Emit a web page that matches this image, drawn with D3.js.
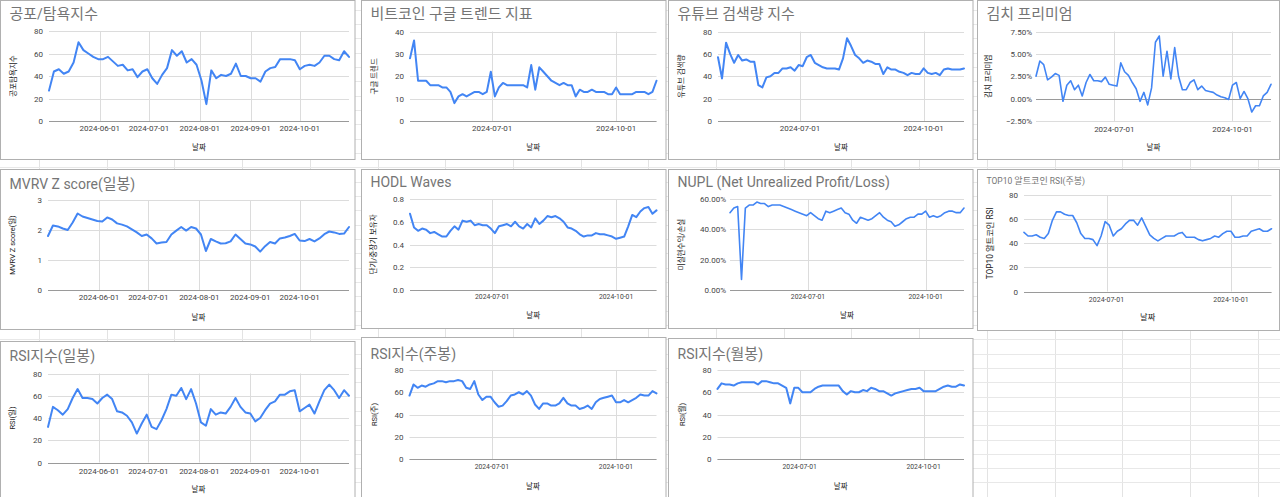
<!DOCTYPE html>
<html><head><meta charset="utf-8">
<script src="https://cdn.jsdelivr.net/npm/d3@7"></script>
<style>
html,body{margin:0;padding:0;background:#fff;overflow:hidden;}
svg{display:block;font-family:Roboto,"Noto Sans CJK KR",sans-serif;}
</style></head><body>
<svg id="c" width="1280" height="497"></svg>
<script>
// ---------- data (sampled every 3 days, 2024-05-01 .. 2024-10-31) ----------
const dates = d3.utcDay.range(new Date(Date.UTC(2024,4,1)), new Date(Date.UTC(2024,10,1)), 3);
const wideTicks = ["2024-06-01","2024-07-01","2024-08-01","2024-09-01","2024-10-01"];
const narrowTicks = ["2024-07-01","2024-10-01"];

const fearGreed = [27,44,46,42,44,52,70,63,60,57, 55,55,57,53,49,50,45,46,39,44, 46,38,33,41,47,63,58,62,52,55, 50,36,15,45,38,41,40,42,51,40, 40,38,38,35,44,47,48,55,55,55, 54,46,49,50,49,52,58,58,55,54, 62,57];
const googleTrend = [28,36,18,18,18,16,16,16,15,15, 13,8,11,12,11,12,13,13,12,13, 22,11,15,17,16,16,16,16,16,15, 25,14,24,22,20,18,17,16,17,16, 16,11,14,13,13,14,13,13,13,12, 12,15,12,12,12,12,13,13,13,12, 13,18];
const youtubeSearch = [57,38,70,60,52,59,54,55,53,53, 32,30,39,40,43,43,47,47,48,45, 50,49,57,59,52,50,48,47,47,47, 46,56,74,67,59,56,52,54,53,51, 51,42,48,46,46,44,43,41,43,42, 42,47,43,42,43,41,46,47,46,46, 46,47];
const kimchiPremium = [2.5,4.2,3.8,2.1,2.4,2.8,2.6,-0.3,1.5,2.0, 1.0,1.5,0.3,1.8,2.7,2.0,2.0,1.9,2.4,1.6, 1.5,1.4,4.0,3.0,2.6,1.8,1.1,-0.3,0.7,-0.7, 1.2,6.3,7.0,2.5,5.3,2.2,5.7,2.5,1.0,1.0, 1.8,2.1,1.0,1.4,0.9,0.8,0.7,0.4,0.2,0.1, -0.1,1.5,1.8,0.0,0.8,0.0,-1.5,-0.8,-0.8,0.3, 0.7,1.6];
const mvrvZ = [1.8,2.15,2.12,2.05,2.0,2.25,2.55,2.45,2.4,2.35, 2.3,2.28,2.42,2.35,2.22,2.18,2.12,2.02,1.92,1.8, 1.85,1.72,1.55,1.58,1.6,1.85,1.98,2.1,1.98,2.1, 2.05,1.85,1.3,1.7,1.62,1.55,1.56,1.62,1.85,1.7, 1.55,1.52,1.45,1.28,1.46,1.6,1.55,1.72,1.75,1.8, 1.87,1.65,1.63,1.7,1.62,1.72,1.86,1.95,1.92,1.87, 1.88,2.1];
const hodlWaves = [0.67,0.55,0.52,0.54,0.53,0.50,0.51,0.49,0.47,0.47, 0.52,0.56,0.53,0.61,0.60,0.61,0.57,0.58,0.57,0.57, 0.54,0.50,0.56,0.57,0.58,0.56,0.60,0.56,0.54,0.58, 0.55,0.63,0.58,0.61,0.65,0.64,0.65,0.63,0.60,0.55, 0.54,0.52,0.49,0.47,0.48,0.48,0.50,0.49,0.49,0.48, 0.47,0.45,0.46,0.47,0.56,0.66,0.64,0.69,0.72,0.73, 0.67,0.70];
const nupl = [51,54,55,7,54,56,56,58,57,57, 55,56,56,56,55,54,53,52,51,50, 49,51,49,47,46,52,51,52,53,54, 51,50,46,44,48,47,46,47,49,51, 48,46,45,42,43,45,47,48,48,50, 50,52,48,49,48,49,51,52,52,51, 51,54];
const altRsiWeekly = [49,46,46,47,45,44,48,59,66,66, 64,63,63,57,48,44,44,43,38,46, 58,55,46,50,52,56,59,59,55,61, 54,47,44,42,44,46,46,46,48,49, 45,45,45,43,42,43,44,46,45,48, 50,50,45,45,46,46,50,51,52,50, 50,52];
const rsiDaily = [32,50,47,43,48,58,66,58,58,57, 53,58,61,57,46,45,42,36,26,35, 43,32,30,38,48,61,60,67,57,66, 53,36,33,48,43,45,44,50,58,50, 45,44,37,40,47,53,55,61,61,64, 65,46,49,52,44,55,65,70,65,58, 65,60];
const rsiWeekly = [57,67,64,66,65,67,68,70,70,69, 70,70,71,70,64,63,70,58,53,56, 56,51,47,48,52,57,58,60,58,61, 57,49,45,50,50,48,48,50,55,50, 48,48,45,46,48,45,51,54,55,56, 57,51,51,53,51,53,55,58,57,57, 61,59];
const rsiMonthly = [63,68,67,67,66,68,69,69,69,69, 67,70,70,69,68,68,66,64,50,64, 64,60,60,60,63,65,66,66,66,66, 66,61,58,61,60,60,62,61,64,63, 61,61,59,57,59,60,61,62,63,63, 64,61,61,61,61,63,65,66,65,65, 67,66];

// ---------- layout ----------
const pct = v => d3.format(".2f")(v) + "%";
const panels = [
 {title:"공포/탐욕지수", yTitle:"공포탐욕지수", data:fearGreed, yDom:[0,80], yTicks:[0,20,40,60,80], fmt:String, xt:wideTicks,
  box:[0.5,0.5,354.5,159], p:{l:49,r:349,t:31,b:121}, titleY:19, xlY:131, xtY:150, ytX:13},
 {title:"비트코인 구글 트렌드 지표", yTitle:"구글 트렌드", data:googleTrend, yDom:[0,40], yTicks:[0,10,20,30,40], fmt:String, xt:narrowTicks,
  box:[361.5,0.5,304.5,159], p:{l:410,r:656.5,t:31.5,b:121}, titleY:19, xlY:131, xtY:150, ytX:374},
 {title:"유튜브 검색량 지수", yTitle:"유튜브 검색량", data:youtubeSearch, yDom:[0,80], yTicks:[0,20,40,60,80], fmt:String, xt:narrowTicks,
  box:[668.5,0.5,304.5,159], p:{l:718,r:964,t:31.5,b:121}, titleY:19, xlY:131, xtY:150, ytX:681},
 {title:"김치 프리미엄", yTitle:"김치 프리미엄", data:kimchiPremium, yDom:[-2.5,7.5], yTicks:[-2.5,0,2.5,5,7.5], fmt:pct, xt:narrowTicks,
  box:[977.5,0.5,302,159], p:{l:1036,r:1271,t:31.5,b:121}, titleY:19, xlY:132, xtY:150, ytX:988, lw:1.6, ylGap:4},
 {title:"MVRV Z score(일봉)", yTitle:"MVRV Z score(일)", data:mvrvZ, yDom:[0,3], yTicks:[0,1,2,3], fmt:String, xt:wideTicks,
  box:[0.5,169.5,354.5,160], p:{l:48,r:349,t:200,b:290}, titleY:188.5, xlY:299.5, xtY:319.5, ytX:12},
 {title:"HODL Waves", yTitle:"단기/중장기 보유자", data:hodlWaves, yDom:[0,0.8], yTicks:[0,0.2,0.4,0.6,0.8], fmt:d3.format(".1f"), xt:narrowTicks,
  box:[361.5,169.5,304.5,159], p:{l:410,r:656.5,t:199,b:290}, titleY:186.5, xlY:299, xtY:318, ytX:373, xlSize:6.8},
 {title:"NUPL (Net Unrealized Profit/Loss)", yTitle:"미실현수익/손실", data:nupl, yDom:[0,60], yTicks:[0,20,40,60], fmt:pct, xt:narrowTicks,
  box:[668.5,169.5,304.5,159], p:{l:730,r:964,t:199,b:290}, titleY:186.5, xlY:299, xtY:318, ytX:681, xlSize:6.8, lw:1.6, ylGap:4},
 {title:"TOP10 알트코인 RSI(주봉)", yTitle:"TOP10 알트코인 RSI", data:altRsiWeekly, yDom:[0,80], yTicks:[0,20,40,60,80], fmt:String, xt:narrowTicks,
  box:[977.5,169.5,302,161], p:{l:1024,r:1271.5,t:195,b:291.5}, titleY:184, xlY:301.5, xtY:320, ytX:990, xlSize:7, lw:1.6, small:true},
 {title:"RSI지수(일봉)", yTitle:"RSI(일)", data:rsiDaily, yDom:[0,80], yTicks:[0,20,40,60,80], fmt:String, xt:wideTicks,
  box:[0.5,341.5,354.5,170], p:{l:48,r:349,t:373.5,b:462.5}, titleY:360.5, xlY:474, xtY:492, ytX:12},
 {title:"RSI지수(주봉)", yTitle:"RSI(주)", data:rsiWeekly, yDom:[0,80], yTicks:[0,20,40,60,80], fmt:String, xt:narrowTicks,
  box:[361.5,337.5,304.5,170], p:{l:409.5,r:656.5,t:370,b:459}, titleY:358.5, xlY:469, xtY:489, ytX:374, xlSize:6.8},
 {title:"RSI지수(월봉)", yTitle:"RSI(월)", data:rsiMonthly, yDom:[0,80], yTicks:[0,20,40,60,80], fmt:String, xt:narrowTicks,
  box:[668.5,338.5,304.5,170], p:{l:717.5,r:964,t:370,b:459}, titleY:358.5, xlY:469, xtY:489, ytX:682, xlSize:6.8}
];

const svg = d3.select("#c");

// spreadsheet background grid
const bg = svg.append("g");
bg.selectAll("line.v").data(d3.range(0, 20)).join("line")
  .attr("x1", i => Math.round(39 + 67.7 * i) + 0.5).attr("x2", i => Math.round(39 + 67.7 * i) + 0.5)
  .attr("y1", 0).attr("y2", 497).attr("stroke", "#e3e3e3");
bg.selectAll("line.h").data(d3.range(0, 36)).join("line")
  .attr("y1", i => Math.round(9.6 + 14.33 * i) + 0.5).attr("y2", i => Math.round(9.6 + 14.33 * i) + 0.5)
  .attr("x1", 0).attr("x2", 1280).attr("stroke", "#e8e8e8");

const parse = d3.utcParse("%Y-%m-%d");

// title with slightly larger Hangul runs
function richTitle(sel, text, size) {
  text.split(/([\uAC00-\uD7A3]+)/).filter(s => s.length).forEach(run => {
    const isK = /[\uAC00-\uD7A3]/.test(run);
    sel.append("tspan").attr("font-size", isK ? size * 1.07 : size).text(run);
  });
}

panels.forEach(P => {
  const g = svg.append("g");
  const [bx, by, bw, bh] = P.box;
  g.append("rect").attr("x", bx).attr("y", by).attr("width", bw).attr("height", bh)
    .attr("fill", "#fff").attr("stroke", "#b0b0b0").attr("stroke-width", 1);

  const x = d3.scaleUtc().domain([dates[0], dates[dates.length - 1]]).range([P.p.l, P.p.r]);
  const y = d3.scaleLinear().domain(P.yDom).range([P.p.b, P.p.t]);

  g.selectAll("line.hg").data(P.yTicks).join("line")
    .attr("x1", P.p.l).attr("x2", P.p.r)
    .attr("y1", d => Math.round(y(d)) + 0.5).attr("y2", d => Math.round(y(d)) + 0.5)
    .attr("stroke", "#dcdcdc").attr("stroke-width", 1);
  g.selectAll("line.vg").data(P.xt).join("line")
    .attr("x1", d => Math.round(x(parse(d))) + 0.5).attr("x2", d => Math.round(x(parse(d))) + 0.5)
    .attr("y1", P.p.t).attr("y2", P.p.b)
    .attr("stroke", "#dcdcdc");
  g.append("line").attr("x1", P.p.l).attr("x2", P.p.r)
    .attr("y1", Math.round(y(0)) + 0.5).attr("y2", Math.round(y(0)) + 0.5)
    .attr("stroke", "#9a9a9a");

  g.selectAll("text.yl").data(P.yTicks).join("text")
    .attr("x", P.p.l - (P.ylGap || 6)).attr("y", d => y(d) + 3)
    .attr("text-anchor", "end").attr("font-size", 8).attr("fill", "#444")
    .text(P.fmt);
  g.selectAll("text.xl").data(P.xt).join("text")
    .attr("x", d => x(parse(d))).attr("y", P.xlY)
    .attr("text-anchor", "middle").attr("font-size", P.xlSize || 8).attr("fill", "#444")
    .text(d => d);

  const line = d3.line().x((v, i) => x(dates[i])).y(v => y(v));
  g.append("path").datum(P.data).attr("d", line)
    .attr("fill", "none").attr("stroke", "#4285f4").attr("stroke-width", P.lw || 2)
    .attr("stroke-linejoin", "round").attr("stroke-linecap", "round");

  const t = g.append("text").attr("x", bx + 9).attr("y", P.titleY).attr("fill", "#757575");
  richTitle(t, P.title, P.small ? 8.5 : 14);

  g.append("text").attr("x", (P.p.l + P.p.r) / 2).attr("y", P.xtY)
    .attr("text-anchor", "middle").attr("font-size", P.small ? 8.3 : 7.5).attr("fill", "#222").text("날짜");
  const cy = (P.p.t + P.p.b) / 2;
  g.append("text").attr("transform", `translate(${P.ytX + 3},${cy}) rotate(-90)`)
    .attr("text-anchor", "middle").attr("font-size", P.small ? 8.3 : 7.5).attr("fill", "#222").text(P.yTitle);
});
</script>
</body></html>
